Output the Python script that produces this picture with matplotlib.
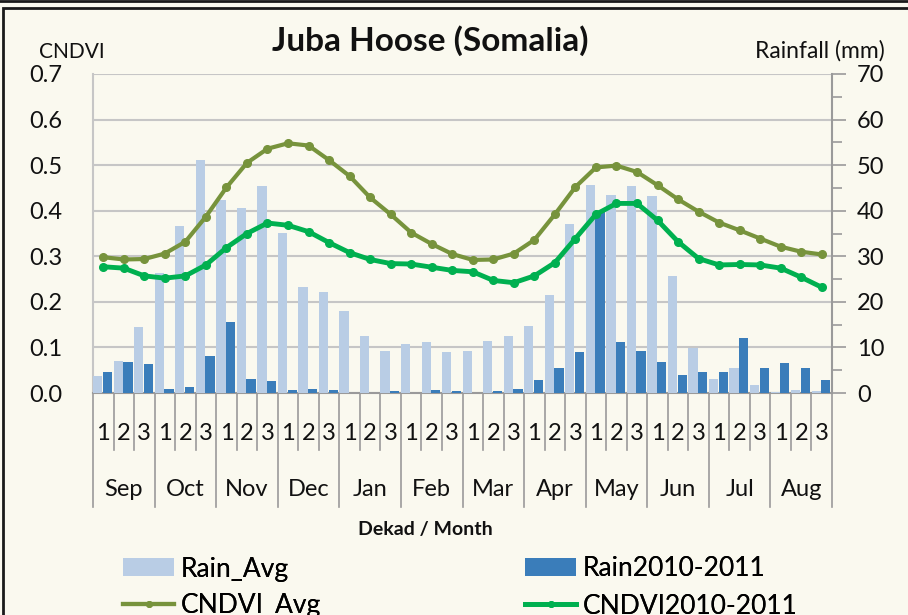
import matplotlib
matplotlib.use("Agg")
import matplotlib.pyplot as plt
from matplotlib.lines import Line2D
from matplotlib.patches import Patch, Rectangle
import numpy as np

plt.rcParams['font.family'] = ['Lato', 'DejaVu Sans']

months = ["Sep", "Oct", "Nov", "Dec", "Jan", "Feb", "Mar", "Apr", "May", "Jun", "Jul", "Aug"]
dekads = ["1", "2", "3"]

rain_avg = [3.8, 7.0, 14.4, 26.3, 36.7, 51.2, 42.3, 40.6, 45.4, 35.2, 23.3, 22.2,
            18.1, 12.4, 9.3, 10.8, 11.1, 9.0, 9.3, 11.5, 12.4, 14.6, 21.5, 37.0,
            45.7, 43.5, 45.4, 43.2, 25.7, 9.8, 3.1, 5.5, 1.7, 0.2, 0.7, 0.5]
rain_2010 = [4.7, 6.7, 6.4, 0.9, 1.3, 8.2, 15.5, 3.1, 2.6, 0.6, 0.9, 0.6,
             0.0, 0.0, 0.4, 0.0, 0.6, 0.5, 0.0, 0.5, 0.9, 2.8, 5.5, 8.9,
             40.0, 11.1, 9.3, 6.9, 4.0, 4.6, 4.6, 12.0, 5.5, 6.6, 5.5, 2.9]
cndvi_avg = [0.298, 0.293, 0.294, 0.306, 0.332, 0.387, 0.451, 0.505, 0.536, 0.548, 0.543, 0.511,
             0.476, 0.429, 0.392, 0.352, 0.327, 0.305, 0.292, 0.293, 0.306, 0.336, 0.392, 0.452,
             0.495, 0.499, 0.485, 0.456, 0.425, 0.398, 0.374, 0.357, 0.339, 0.321, 0.310, 0.304]
cndvi_2010 = [0.277, 0.274, 0.257, 0.252, 0.257, 0.281, 0.319, 0.350, 0.373, 0.368, 0.354, 0.330,
              0.308, 0.293, 0.284, 0.283, 0.276, 0.269, 0.266, 0.247, 0.242, 0.257, 0.286, 0.339,
              0.392, 0.416, 0.416, 0.379, 0.332, 0.295, 0.281, 0.282, 0.281, 0.274, 0.254, 0.232]

BG = "#FAF9EF"
LIGHT = "#B9CDE5"
DARK = "#3A7DBA"
OLIVE = "#77933C"
GREEN = "#00B050"
GRID = "#C6C6C6"
SPINE = "#9A9A9A"
TXT = "#111111"

W, H = 908, 615
fig = plt.figure(figsize=(W / 100, H / 100), dpi=100)
fig.patch.set_facecolor(BG)

# frame
fig.add_artist(Rectangle((3 / W, -0.1), 1.2, 1 - 8 / H + 0.1, transform=fig.transFigure,
                         fill=False, edgecolor="#1a1a1a", linewidth=2.0))
fig.add_artist(Line2D([0, 1], [1 - 1 / H, 1 - 1 / H], transform=fig.transFigure,
                      color="#1a1a1a", linewidth=2.0))

L, R, T, B = 93, 832, 74, 393
ax = fig.add_axes([L / W, 1 - B / H, (R - L) / W, (B - T) / H])
ax.set_facecolor(BG)
ax2 = ax.twinx()

n = len(rain_avg)
x = np.arange(n)

ax2.bar(x - 0.27, rain_avg, width=0.45, color=LIGHT, zorder=2)
ax2.bar(x + 0.20, rain_2010, width=0.45, color=DARK, zorder=2)
ax2.set_ylim(0, 70)
ax2.set_yticks(np.arange(0, 71, 10))
ax2.set_yticks(np.arange(5, 70, 10), minor=True)
ax2.tick_params(axis='y', which='major', length=10, width=1.2, color=SPINE, labelsize=17,
                pad=8, labelcolor=TXT)
ax2.tick_params(axis='y', which='minor', length=7, width=1.2, color=SPINE)

ax3 = ax.twinx()
ax3.set_ylim(0, 0.7)
ax3.axis('off')
ax3.plot(x, cndvi_avg, color=OLIVE, linewidth=3.0, marker='o', markersize=5.5, zorder=4)
ax3.plot(x, cndvi_2010, color=GREEN, linewidth=3.5, marker='o', markersize=5.5, zorder=4)

ax.set_ylim(0, 0.7)
for a in (ax, ax2, ax3):
    a.set_xlim(-0.5, n - 0.5)
ax.set_yticks(np.arange(0, 0.71, 0.1))
ax.set_yticklabels([f"{v:.1f}" for v in np.arange(0, 0.71, 0.1)])
ax.tick_params(axis='y', length=0, labelsize=17, pad=22, labelcolor=TXT)
ax.set_xticks([])
ax2.set_xticks([])
ax.grid(axis='y', color=GRID, linewidth=1.5)
ax.set_axisbelow(True)

for a in (ax, ax2, ax3):
    for s in a.spines.values():
        s.set_visible(False)
ax2.spines['right'].set_visible(True)
ax2.spines['right'].set_color(SPINE)
ax2.spines['right'].set_linewidth(1.5)
ax.spines['left'].set_visible(True)
ax.spines['left'].set_color(GRID)
ax.spines['left'].set_linewidth(1.5)
ax.spines['bottom'].set_visible(True)
ax.spines['bottom'].set_color(SPINE)
ax.spines['bottom'].set_linewidth(1.5)
ax.spines['bottom'].set_zorder(5)

# category axis separators and labels
px = 1.0 / (B - T)
trans = ax.get_xaxis_transform()
for i in range(n + 1):
    xb = i - 0.5
    depth = 114 if i % 3 == 0 else 57
    ax.add_line(Line2D([xb, xb], [0, -depth * px], transform=trans, color=SPINE,
                       linewidth=1.2, clip_on=False))
for i in range(n):
    ax.text(i, -40 * px, dekads[i % 3], transform=trans, ha='center', va='center',
            fontsize=17, color=TXT)
for m, name in enumerate(months):
    ax.text(3 * m + 1, -97 * px, name, transform=trans, ha='center', va='center',
            fontsize=17, color=TXT)

fig.text(425 / W, 1 - 529 / H, "Dekad / Month", ha='center', va='center', fontsize=14,
         fontweight='bold', color=TXT)
fig.text(430 / W, 1 - 41 / H, "Juba Hoose (Somalia)", ha='center', va='center', fontsize=24,
         fontweight='bold', color=TXT)
fig.text(72 / W, 1 - 52 / H, "CNDVI", ha='center', va='center', fontsize=15, color=TXT)
fig.text(755 / W, 1 - 51 / H, "Rainfall (mm)", ha='left', va='center', fontsize=16.5, color=TXT)

entries = [
    (Patch(facecolor=LIGHT), "Rain_Avg", 123, 569),
    (Line2D([], [], color=OLIVE, linewidth=3, marker='o', markersize=4), "CNDVI_Avg", 123, 606),
    (Patch(facecolor=DARK), "Rain2010-2011", 525, 569),
    (Line2D([], [], color=GREEN, linewidth=3.5, marker='o', markersize=4), "CNDVI2010-2011", 525, 606),
]
for h, lab, lx, ly in entries:
    leg = fig.legend(handles=[h], labels=[lab], loc='center left',
                     bbox_to_anchor=(lx / W, 1 - ly / H), frameon=False, fontsize=19,
                     handlelength=1.95, handleheight=0.65, handletextpad=0.25,
                     borderaxespad=0, borderpad=0)
    fig.add_artist(leg)

fig.savefig("out.png", dpi=100, facecolor=BG)
